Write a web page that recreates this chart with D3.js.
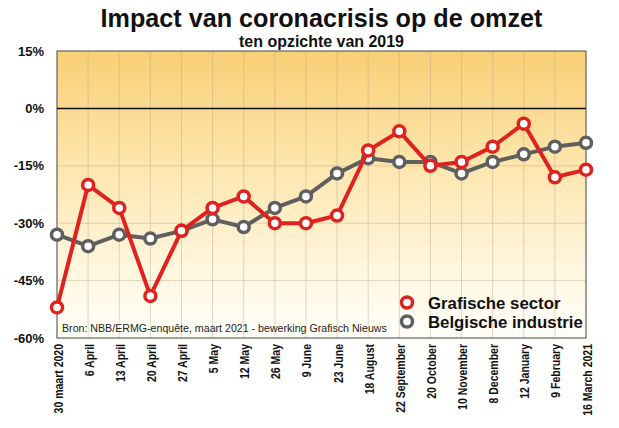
<!DOCTYPE html>
<html><head><meta charset="utf-8">
<script src="https://cdn.jsdelivr.net/npm/d3@7"></script>
<style>
html,body{margin:0;padding:0;background:#fff;}
svg{display:block;font-family:"Liberation Sans",Arial,Helvetica,sans-serif;}
</style></head>
<body>
<svg id="c" width="619" height="428"></svg>
<script>
const categories = ["30 maart 2020","6 April","13 April","20 April","27 April","5 May","12 May","26 May","9 June","23 June","18 August","22 September","20 October","10 November","8 December","12 January","9 February","16 March 2021"];
const grafischeSector = [-52,-20,-26,-49,-32,-26,-23,-30,-30,-28,-11,-6,-15,-14,-10,-4,-18,-16];
const belgischeIndustrie = [-33,-36,-33,-34,-32,-29,-31,-26,-23,-17,-13,-14,-14,-17,-14,-12,-10,-9];
const yTicks = [15,0,-15,-30,-45,-60];
const seriesNames = ["Grafische sector","Belgische industrie"];
const title = "Impact van coronacrisis op de omzet";
const subtitle = "ten opzichte van 2019";
const source = "Bron: NBB/ERMG-enquête, maart 2021 - bewerking Grafisch Nieuws";

const svg = d3.select("#c");
const L=57, R=586, T=51, B=338;
const CX=(L+R)/2;
const x = d3.scalePoint().domain(categories).range([L,R]);
const y = d3.scaleLinear().domain([-60,15]).range([B,T]);

// fit a text element's font size to a target width
function fit(sel, base, w){
  sel.attr("font-size", base+"px");
  const len = sel.node().getComputedTextLength();
  sel.attr("font-size", (base*w/len).toFixed(2)+"px");
}

const defs = svg.append("defs");
const g = defs.append("linearGradient").attr("id","bg").attr("x1",0).attr("y1",0).attr("x2",0).attr("y2",1);
g.append("stop").attr("offset","0").attr("stop-color","#f9cf76");
g.append("stop").attr("offset","0.35").attr("stop-color","#fde3a6");
g.append("stop").attr("offset","0.75").attr("stop-color","#fff6de");
g.append("stop").attr("offset","1").attr("stop-color","#fffef9");

svg.append("rect").attr("x",L).attr("y",T).attr("width",R-L).attr("height",B-T).attr("fill","url(#bg)");

svg.append("g").selectAll("line").data(categories).join("line")
  .attr("x1",d=>x(d)).attr("x2",d=>x(d)).attr("y1",T).attr("y2",B)
  .attr("stroke","#b8a888").attr("stroke-opacity",0.45).attr("stroke-width",1);
svg.append("g").selectAll("line").data(yTicks.filter(v=>v!==0)).join("line")
  .attr("x1",L).attr("x2",R).attr("y1",d=>y(d)).attr("y2",d=>y(d))
  .attr("stroke","#b8a888").attr("stroke-opacity",0.45).attr("stroke-width",1);
svg.append("rect").attr("x",L).attr("y",T).attr("width",R-L).attr("height",B-T)
  .attr("fill","none").attr("stroke","#555").attr("stroke-width",1);
svg.append("line").attr("x1",L).attr("x2",R).attr("y1",y(0)).attr("y2",y(0))
  .attr("stroke","#111").attr("stroke-width",1.5);

const yAxis = d3.axisLeft(y).tickValues(yTicks).tickSize(0).tickPadding(13).tickFormat(d=>d+"%");
const ya = svg.append("g").attr("transform",`translate(${L},0)`).call(yAxis);
ya.select(".domain").remove();
ya.selectAll("text").attr("font-size","13px").attr("font-weight","bold").attr("fill","#111")
  .attr("font-family","Liberation Sans, Arial, sans-serif");

const xAxis = d3.axisBottom(x).tickSize(0).tickPadding(0);
const xa = svg.append("g").attr("transform",`translate(0,${B})`).call(xAxis);
xa.select(".domain").remove();
xa.selectAll("text").attr("font-size","12.5px").attr("font-weight","bold").attr("fill","#111")
  .attr("font-family","Liberation Sans, Arial, sans-serif")
  .attr("text-anchor","end").attr("dy",null).attr("y",0)
  .attr("transform","translate(5,6) rotate(-90) scale(0.84,1)");

const src = svg.append("text").attr("x",62).attr("y",332).attr("fill","#222").text(source);
fit(src, 11, 325);

const line = d3.line().x((d,i)=>x(categories[i])).y(d=>y(d));
const series = [
  {name:seriesNames[1], values:belgischeIndustrie, color:"#5f5f5f"},
  {name:seriesNames[0], values:grafischeSector, color:"#e0221e"}
];
series.forEach(s=>{
  svg.append("path").datum(s.values).attr("d",line).attr("fill","none")
    .attr("stroke",s.color).attr("stroke-width",4).attr("stroke-linejoin","round");
  svg.append("g").selectAll("circle").data(s.values).join("circle")
    .attr("cx",(d,i)=>x(categories[i])).attr("cy",d=>y(d)).attr("r",5.5)
    .attr("fill","#fff").attr("stroke",s.color).attr("stroke-width",3.5);
});

const leg = [{name:seriesNames[0],color:"#e0221e",y:302.5},{name:seriesNames[1],color:"#5f5f5f",y:321.5}];
const legTexts = [];
leg.forEach(l=>{
  svg.append("circle").attr("cx",407).attr("cy",l.y).attr("r",5.5).attr("fill","#fff")
    .attr("stroke",l.color).attr("stroke-width",3.5);
  legTexts.push(svg.append("text").attr("x",428).attr("y",l.y+6).attr("font-weight","bold")
    .attr("fill","#111").text(l.name));
});
fit(legTexts[1], 17, 155);
legTexts[0].attr("font-size", legTexts[1].attr("font-size"));

const t1 = svg.append("text").attr("x",CX).attr("y",27).attr("text-anchor","middle")
  .attr("font-weight","bold").attr("fill","#111").text(title);
fit(t1, 24, 442);
const t2 = svg.append("text").attr("x",CX).attr("y",47).attr("text-anchor","middle")
  .attr("font-weight","bold").attr("fill","#111").text(subtitle);
fit(t2, 16, 165);
</script>
</body></html>
